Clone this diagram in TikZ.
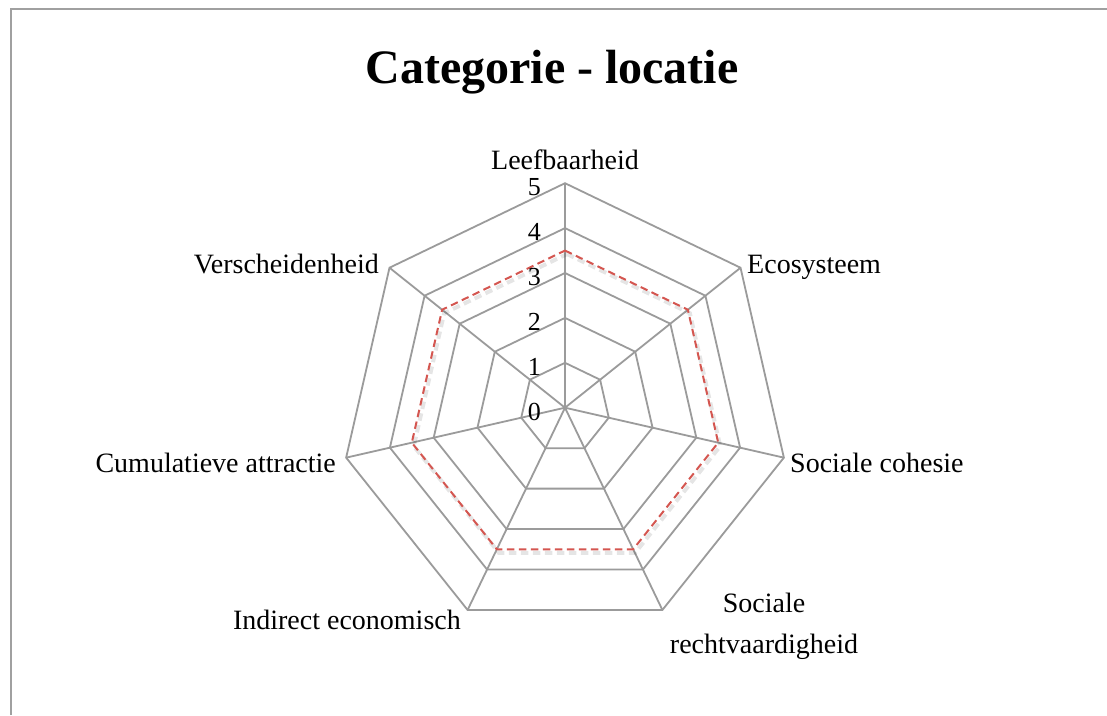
\documentclass[tikz,border=0pt]{standalone}
\usepackage{fontspec}
\setmainfont{Liberation Serif}
\definecolor{gridgray}{RGB}{155,155,155}
\definecolor{framegray}{RGB}{160,160,160}
\definecolor{datared}{RGB}{212,86,80}
\tikzset{
  gridline/.style={draw=gridgray,line width=1.8pt},
  dataline/.style={draw=datared,line width=2pt,dash pattern=on 7.5pt off 4.5pt},
  shadowline/.style={draw=black,opacity=0.10,line width=4pt,dash pattern=on 7.5pt off 4.5pt},
  lbl/.style={font=\fontsize{28}{32}\selectfont,inner sep=0pt},
  num/.style={font=\fontsize{26}{30}\selectfont,inner sep=0pt,anchor=east},
}
\begin{document}
\begin{tikzpicture}[x=1pt,y=-1pt]
\useasboundingbox (0,0) rectangle (1107,715);
\fill[white] (0,0) rectangle (1107,715);
\draw[framegray,line width=2pt] (11,715) -- (11,9) -- (1107,9);

\node[font=\fontsize{48}{56}\selectfont\bfseries,inner sep=0pt,anchor=base] (title) at (552,83) {Categorie - locatie};

\begin{scope}[shift={(565,407.7)}]
  \foreach \r in {1,...,5}{
    \draw[gridline] (-90:{\r*44.9})
      \foreach \k in {1,...,6}{ -- ({-90+\k*360/7}:{\r*44.9}) } -- cycle;
  }
  \foreach \k in {0,...,6}{
    \draw[gridline] (0,0) -- ({-90+\k*360/7}:224.5);
  }
  \begin{scope}[shift={(2,3.5)}]
    \draw[shadowline] (-90:157.15)
      \foreach \k in {1,...,6}{ -- ({-90+\k*360/7}:157.15) } -- cycle;
  \end{scope}
  \draw[dataline] (-90:157.15)
    \foreach \k in {1,...,6}{ -- ({-90+\k*360/7}:157.15) } -- cycle;
\end{scope}

\foreach \r in {0,...,5}{
  \node[num] (n\r) at (541,{407.7-\r*44.9+4}) {\r};
}

\node[lbl,anchor=base] (l1) at (565,169) {Leefbaarheid};
\node[lbl,anchor=base west] (l2) at (747,273) {Ecosysteem};
\node[lbl,anchor=base west] (l3) at (790,472) {Sociale cohesie};
\node[lbl,anchor=base] (l4a) at (764,612) {Sociale};
\node[lbl,anchor=base] (l4b) at (764,653) {rechtvaardigheid};
\node[lbl,anchor=base east] (l5) at (461,629) {Indirect economisch};
\node[lbl,anchor=base east] (l6) at (336,472) {Cumulatieve attractie};
\node[lbl,anchor=base east] (l7) at (379,273) {Verscheidenheid};
\end{tikzpicture}
\end{document}
